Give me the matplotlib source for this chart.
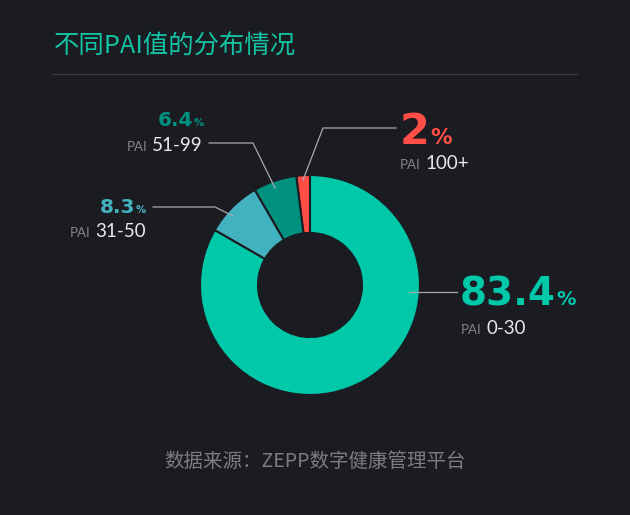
import matplotlib.pyplot as plt

# PAI 分布数据（从上方开始逆时针）
labels = ['100+', '51-99', '31-50', '0-30']
values = [2, 6.4, 8.3, 83.4]
value_text = ['2', '6.4', '8.3', '83.4']
colors = ['#FF4E45', '#00927F', '#43B2C0', '#00C9AA']

BG = '#1B1B22'
W, H = 630, 515

plt.rcParams['font.family'] = ['Noto Sans CJK SC', 'DejaVu Sans']

fig = plt.figure(figsize=(W / 100, H / 100), dpi=100, facecolor=BG)
ax = fig.add_axes([0, 0, 1, 1])
ax.set_facecolor(BG)


def Y(y):
    # 图片坐标 -> 轴坐标
    return H - y


ax.pie(values, colors=colors, startangle=90, counterclock=True,
       center=(310, Y(285)), radius=110,
       wedgeprops=dict(width=58, edgecolor=BG, linewidth=1.5))
ax.set_xlim(0, W)
ax.set_ylim(0, H)
ax.set_aspect('auto')
ax.axis('off')

# 标题和分隔线
ax.text(54, Y(47), '不同PAI值的分布情况', color='#13C3A3', fontsize=18.3,
        va='center', ha='left', fontweight='light')
ax.plot([53, 577], [Y(74), Y(74)], color='#3A3A42', lw=1)

# 来源
ax.text(315, Y(461), '数据来源：ZEPP数字健康管理平台', color='#7C7C84',
        fontsize=14, va='center', ha='center')

fig.canvas.draw()
renderer = fig.canvas.get_renderer()


def width_px(t):
    return t.get_window_extent(renderer).width


def pct_label(x, y, num, color, size, align):
    num_font = ['DejaVu Sans']
    p = ax.text(0, Y(y), '%', color=color, fontsize=size * 0.5,
                fontweight='bold', family=num_font, va='baseline')
    n = ax.text(0, Y(y), num, color=color, fontsize=size,
                fontweight='bold', family=num_font, va='baseline')
    wp, wn = width_px(p), width_px(n)
    if align == 'left':
        n.set_x(x)
        p.set_x(x + wn + 0.5)
    else:
        p.set_x(x - wp)
        n.set_x(x - wp - wn - 0.5)


def pai_label(x, y, rng, align):
    f = ['Lato', 'DejaVu Sans']
    a = ax.text(0, Y(y), 'PAI', color='#85858C', fontsize=9.5, family=f,
                va='baseline')
    b = ax.text(0, Y(y), rng, color='#E8E8EA', fontsize=13.5, family=f,
                va='baseline')
    wa, wb = width_px(a), width_px(b)
    if align == 'left':
        a.set_x(x)
        b.set_x(x + wa + 5)
    else:
        b.set_x(x - wb)
        a.set_x(x - wb - 5 - wa)


line_kw = dict(color='#A8A8AE', lw=0.9)

# 100+
ax.plot([303, 323, 396], [Y(180), Y(128), Y(128)], **line_kw)
pct_label(400, 144, value_text[0], colors[0], 31, 'left')
pai_label(400, 169, labels[0], 'left')

# 51-99
ax.plot([275, 253, 209], [Y(188), Y(143), Y(143)], **line_kw)
pct_label(204, 126, value_text[1], colors[1], 14.5, 'right')
pai_label(203, 151, labels[1], 'right')

# 31-50
ax.plot([233, 215, 153], [Y(216), Y(207), Y(207)], **line_kw)
pct_label(146, 213, value_text[2], colors[2], 14.5, 'right')
pai_label(146, 237, labels[2], 'right')

# 0-30
ax.plot([409, 457], [Y(292), Y(292)], **line_kw)
pct_label(460, 305, value_text[3], colors[3], 28, 'left')
pai_label(461, 334, labels[3], 'left')

fig.savefig('out.png', dpi=100, facecolor=BG)
